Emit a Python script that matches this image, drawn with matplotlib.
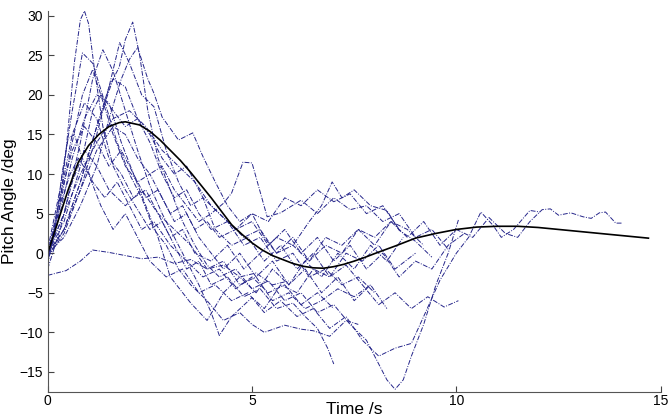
import numpy as np
import matplotlib
matplotlib.use('Agg')
import matplotlib.pyplot as plt

# individual runs (time /s, pitch /deg)
r1_t = [0, 0.25, 0.45, 0.65, 0.8, 0.9, 1.0, 1.15, 1.35, 1.6, 1.9, 2.2, 2.5, 2.8, 3.1, 3.4, 3.7, 4.0, 4.4, 4.8, 5.2, 5.6, 6.0, 6.3, 6.6, 6.85, 7.0]
r1_y = [-1, 4, 13, 24, 29.5, 30.6, 29, 23, 16, 11, 8, 5.5, 3, 4, 1, -2, -1, -4, -3, -5.5, -4.5, -7, -6.3, -8, -9.5, -12, -14]

r2_t = [0, 0.4, 0.8, 1.2, 1.5, 1.75, 1.9, 2.08, 2.25, 2.45, 2.7, 3.0, 3.3, 3.6, 3.9, 4.2, 4.6, 5.0, 5.4, 5.8, 6.2, 6.6, 7.0, 7.4, 7.8, 8.1, 8.3, 8.5, 8.7, 8.9, 9.2, 9.5, 9.8, 10.05]
r2_y = [0, 3, 9, 16, 21, 23.5, 27, 29.2, 25, 18, 12, 8, 4, 1, -1.5, -3, -2, -4.5, -3.5, -6, -5, -7.5, -6.5, -9, -11, -14, -16, -17.2, -16, -13, -9, -4, 0, 4.2]

r3_t = [0, 0.4, 0.8, 1.2, 1.5, 1.76, 2.0, 2.3, 2.6, 2.9, 3.2, 3.5, 3.8, 4.1, 4.5, 4.9, 5.3, 5.7, 6.1, 6.5, 6.9, 7.3, 7.7, 8.1, 8.5, 8.9, 9.3, 9.7, 10.05]
r3_y = [-0.5, 2.5, 8, 15, 21, 26.6, 24, 20, 18.5, 13, 9, 6, 7, 3, 1, 2, -1, 1, -2, 0, -3, -1.5, -4, -6.5, -5, -7, -5.5, -6.8, -6]

r4_t = [0, 0.4, 0.8, 1.1, 1.35, 1.6, 1.9, 2.2, 2.5, 2.8, 3.1, 3.4, 3.7, 4.0, 4.2, 4.5, 5.0, 5.3, 5.7, 6.1, 6.5, 6.9, 7.3, 7.7, 8.1, 8.5, 9.0]
r4_y = [0, 5, 14, 22, 25.7, 23, 18, 13, 8.5, 5, 2, -1, -4, -7.5, -10.4, -8, -5.6, -7, -4, -5, -2, -3, 0, -1, 1, -2, 0]

r5_t = [0, 0.3, 0.6, 0.85, 1.1, 1.4, 1.7, 2.0, 2.3, 2.6, 2.9, 3.2, 3.5, 3.9, 4.3, 4.7, 5.0, 5.3, 5.8, 6.2, 6.5, 6.9, 7.3, 7.6]
r5_y = [0.5, 8, 18, 25.3, 24, 19, 14, 10, 7, 3, 1, -2, -4, -6, -8.5, -7.5, -9, -10, -9.1, -9.6, -9.8, -10.5, -8.5, -9]

r6_t = [0, 0.4, 0.8, 1.2, 1.5, 1.8, 2.0, 2.2, 2.45, 2.6, 2.8, 3.2, 3.55, 3.8, 4.1, 4.4, 4.7, 5.0, 5.3, 5.6, 6.0, 6.4, 6.8, 7.2, 7.6, 8.0, 8.4, 8.8, 9.2]
r6_y = [0, 2, 6, 11, 17, 22, 24.5, 26, 22, 20.2, 17.2, 14.3, 15.2, 12.2, 9, 6, 4, 5, 2, 0, 1, -1, 2, 1, 3, 2, 4, 3, 1]

r7_t = [0, 0.3, 0.6, 0.85, 1.1, 1.3, 1.6, 1.9, 2.2, 2.5, 2.8, 3.1, 3.4, 3.7, 4.0, 4.3, 4.7, 5.1, 5.5, 5.9, 6.3, 6.7, 7.1, 7.5, 7.9, 8.3]
r7_y = [0, 6, 14, 20, 23.2, 20, 15, 11, 9, 10, 7, 4, 5, 2, 0, -2, 0, -3, -1, -4, -2, -5, -3, -6, -4, -7]

r8_t = [0, 0.3, 0.6, 0.9, 1.2, 1.5, 1.8, 2.1, 2.4, 2.7, 3.0, 3.3, 3.6, 4.0, 4.4, 4.8, 5.2, 5.6, 6.0, 6.4, 6.7, 6.96, 7.2, 7.5, 7.9, 8.3, 8.6, 9.0, 9.4]
r8_y = [-1, 7, 15, 19, 17, 12, 10, 7, 8, 5, 2, 3, 0, -1, 1, -2, 0, 2, 1, 4, 6, 9, 7, 8, 6, 5.4, 2.9, 1.5, -0.5]

r9_t = [0, 0.4, 0.8, 1.2, 1.6, 1.9, 2.2, 2.5, 2.8, 3.1, 3.4, 3.7, 4.0, 4.3, 4.5, 4.78, 5.0, 5.37, 5.7, 6.2, 6.6, 7.0, 7.4, 7.8, 8.2, 8.6, 9.0, 9.4, 9.8]
r9_y = [-0.5, 3, 8, 13, 16, 15, 12, 10, 11, 8, 6, 4, 5, 6.3, 7.6, 11.5, 11.4, 4.6, 5.1, 6.7, 5, 7, 5.5, 6, 4, 5, 2, 3, 0.5]

r10_t = [0, 0.4, 0.8, 1.1, 1.3, 1.6, 1.9, 2.2, 2.5, 2.8, 3.1, 3.4, 3.7, 4.0, 4.4, 4.8, 5.2, 5.6, 6.0, 6.4, 6.8, 7.2, 7.6, 8.0]
r10_y = [0, 4, 11, 18, 20, 18, 16, 17, 14, 10, 7, 8, 5, 3, 4, 1, 2, -1, 0, -3, -2, -4, -3, -5]

r11_t = [0, 0.45, 0.8, 1.1, 1.5, 1.9, 2.3, 2.7, 3.1, 3.5, 3.9, 4.3, 4.7, 5.1, 5.5, 5.9]
r11_y = [-2.8, -2.2, -1, 0.4, 0.1, -0.3, -0.7, -0.5, -1.3, -0.8, -2, -1.5, -3, -2.5, -4, -3.5]

r12_t = [0, 0.3, 0.55, 0.75, 1.0, 1.3, 1.6, 1.9, 2.2, 2.5, 2.9, 3.3, 3.7, 4.1, 4.5, 4.9, 5.3, 5.7, 6.1, 6.5, 6.9, 7.3, 7.7, 8.1, 8.5, 8.9, 9.2, 9.6, 10.0, 10.3, 10.6, 10.9, 11.1, 11.4, 11.8, 12.05]
r12_y = [-1, 6, 10, 12, 10, 6, 3, 5, 2, -1, -3, -2, -5, -4, -6, -5, -7.5, -6, -8, -7, -9.5, -8, -11, -13, -12, -11.4, -8, -3.4, 0, 2, 5.2, 3.5, 2.0, 3, 5.4, 5.2]

r13_t = [0, 0.4, 0.8, 1.2, 1.6, 2.0, 2.4, 2.8, 3.2, 3.6, 4.0, 4.4, 4.8, 5.2, 5.6, 6.0, 6.4, 6.8, 7.2, 7.6, 8.0, 8.4, 8.8, 9.2, 9.6, 10.0, 10.4, 10.8, 11.2, 11.5, 11.8, 12.1, 12.3, 12.5, 12.8, 13.1, 13.3, 13.5, 13.65, 13.9, 14.07]
r13_y = [0, 5, 10, 14, 17, 18, 16, 13, 11, 9, 6, 4, 2, 3, 0, 2, -1, 1, 0, 3, 1, 4, 2, 4, 1, 3, 2, 4.5, 2.5, 2, 4, 5.5, 5.6, 4.8, 5.1, 4.6, 4.4, 5.1, 5.2, 3.8, 3.8]

r14_t = [0, 0.2, 0.35, 0.5, 0.65, 0.85, 1.1, 1.4, 1.7, 2.0, 2.3, 2.6, 3.0, 3.4, 3.8, 4.2, 4.6, 5.0, 5.4, 5.8, 6.2, 6.6, 7.0]
r14_y = [-1.5, 4, 10, 14.5, 15, 12, 9, 7, 9, 6, 3, 4, 1, -1, -3, -2, -4.5, -3, -5, -4, -6.5, -5, -7]

r15_t = [0, 0.3, 0.6, 0.9, 1.2, 1.5, 1.8, 2.1, 2.4, 2.7, 3.0, 3.5, 3.9, 4.3, 4.7, 5.1, 5.5, 5.9, 6.3, 6.7, 7.1, 7.5, 7.9, 8.3, 8.7]
r15_y = [0, 5, 12, 17, 20, 19, 14, 10, 6, 2, -3, -6.3, -8.5, -5, -3, -5, -2, -4, -1, -3, 0, -2, 1, -1, 2]

r16_t = [0, 0.4, 0.8, 1.2, 1.6, 1.9, 2.2, 2.5, 2.8, 3.1, 3.4, 3.8, 4.2, 4.6, 5.0, 5.4, 5.8, 6.2, 6.6, 7.0, 7.4, 7.8, 8.2, 8.6, 9.0, 9.4, 9.8, 10.2]
r16_y = [0, 3, 9, 16, 22, 21, 17, 15, 12, 10, 11, 7, 5, 3, 4, 1, 3, 0, 2, -1, 1, -2, 0, -3, -1, -2, 1, 2.5]

r17_t = [0, 0.3, 0.6, 0.9, 1.2, 1.5, 1.8, 2.1, 2.4, 2.7, 3.0, 3.3, 3.6, 3.9, 4.2, 4.6, 5.0, 5.4, 5.8, 6.2, 6.6, 7.0, 7.4, 7.8, 8.2, 8.6]
r17_y = [0, 7, 13, 16, 14, 11, 13, 10, 7, 8, 5, 6, 3, 4, 2, 3, 5, 4, 7, 6, 8, 6.5, 7.5, 5, 6, 3]

r18_t = [0, 0.3, 0.6, 0.9, 1.2, 1.5, 1.9, 2.3, 2.7, 3.1, 3.5, 3.9, 4.3, 4.7, 5.1, 5.5, 5.9, 6.3, 6.7, 7.1, 7.5, 7.9]
r18_y = [-2, 3, 9, 13, 11, 8, 6, 8, 5, 3, 1, -2, -1, -4, -3, -6, -5, -7, -6, -4.5, -5.5, -4]

# mean / model response (solid black)
mean_t = [0, 0.25, 0.5, 0.75, 1.0, 1.25, 1.5, 1.75, 1.9, 2.25, 2.5, 2.75, 3.0, 3.25, 3.5, 3.75, 4.0, 4.25, 4.5, 4.75, 5.0, 5.25, 5.5, 5.75, 6.0, 6.25, 6.5, 6.75, 7.0, 7.25, 7.5, 7.75, 8.0, 8.5, 9.0, 9.5, 10.0, 10.5, 11.0, 11.5, 12.0, 12.5, 13.0, 13.5, 14.0, 14.7]
mean_y = [0, 4.0, 8.0, 11.5, 13.6, 15.0, 16.0, 16.5, 16.6, 16.2, 15.4, 14.3, 13.0, 11.7, 10.2, 8.6, 7.0, 5.3, 3.6, 2.4, 1.3, 0.4, -0.3, -0.8, -1.3, -1.65, -1.85, -1.9, -1.7, -1.4, -1.0, -0.55, -0.05, 0.9, 1.9, 2.5, 3.0, 3.3, 3.4, 3.4, 3.25, 3.0, 2.75, 2.5, 2.25, 1.9]

runs = [(r1_t, r1_y), (r2_t, r2_y), (r3_t, r3_y), (r4_t, r4_y), (r5_t, r5_y),
        (r6_t, r6_y), (r7_t, r7_y), (r8_t, r8_y), (r9_t, r9_y), (r10_t, r10_y),
        (r11_t, r11_y), (r12_t, r12_y), (r13_t, r13_y), (r14_t, r14_y),
        (r15_t, r15_y), (r16_t, r16_y), (r17_t, r17_y), (r18_t, r18_y)]

plt.rcParams['font.family'] = ['Liberation Sans', 'DejaVu Sans']

fig = plt.figure(figsize=(6.7, 4.18), dpi=100)
ax = fig.add_axes([0.0712, 0.0629, 0.9149, 0.9108])

for t, y in runs:
    ax.plot(t, y, color='#25258a', lw=0.7, ls=(0, (5, 1.5, 1, 1.5)))
ax.plot(mean_t, mean_y, color='black', lw=1.2)

ax.set_xlim(0, 15)
ax.set_ylim(-17.5, 30.6)
ax.set_xticks([0, 5, 10, 15])
ax.set_yticks(np.arange(-15, 31, 5))
ax.tick_params(direction='in', length=4, width=0.8, labelsize=10, color='#444444')
ax.tick_params(axis='x', pad=1.5)
for s in ['top', 'right']:
    ax.spines[s].set_visible(False)
for s in ['left', 'bottom']:
    ax.spines[s].set_color('#555555')
    ax.spines[s].set_linewidth(0.8)

ax.set_xlabel('Time /s', fontsize=12.5, labelpad=-4)
ax.set_ylabel('Pitch Angle /deg', fontsize=12.5, labelpad=2)

fig.savefig('out.png', dpi=100)
